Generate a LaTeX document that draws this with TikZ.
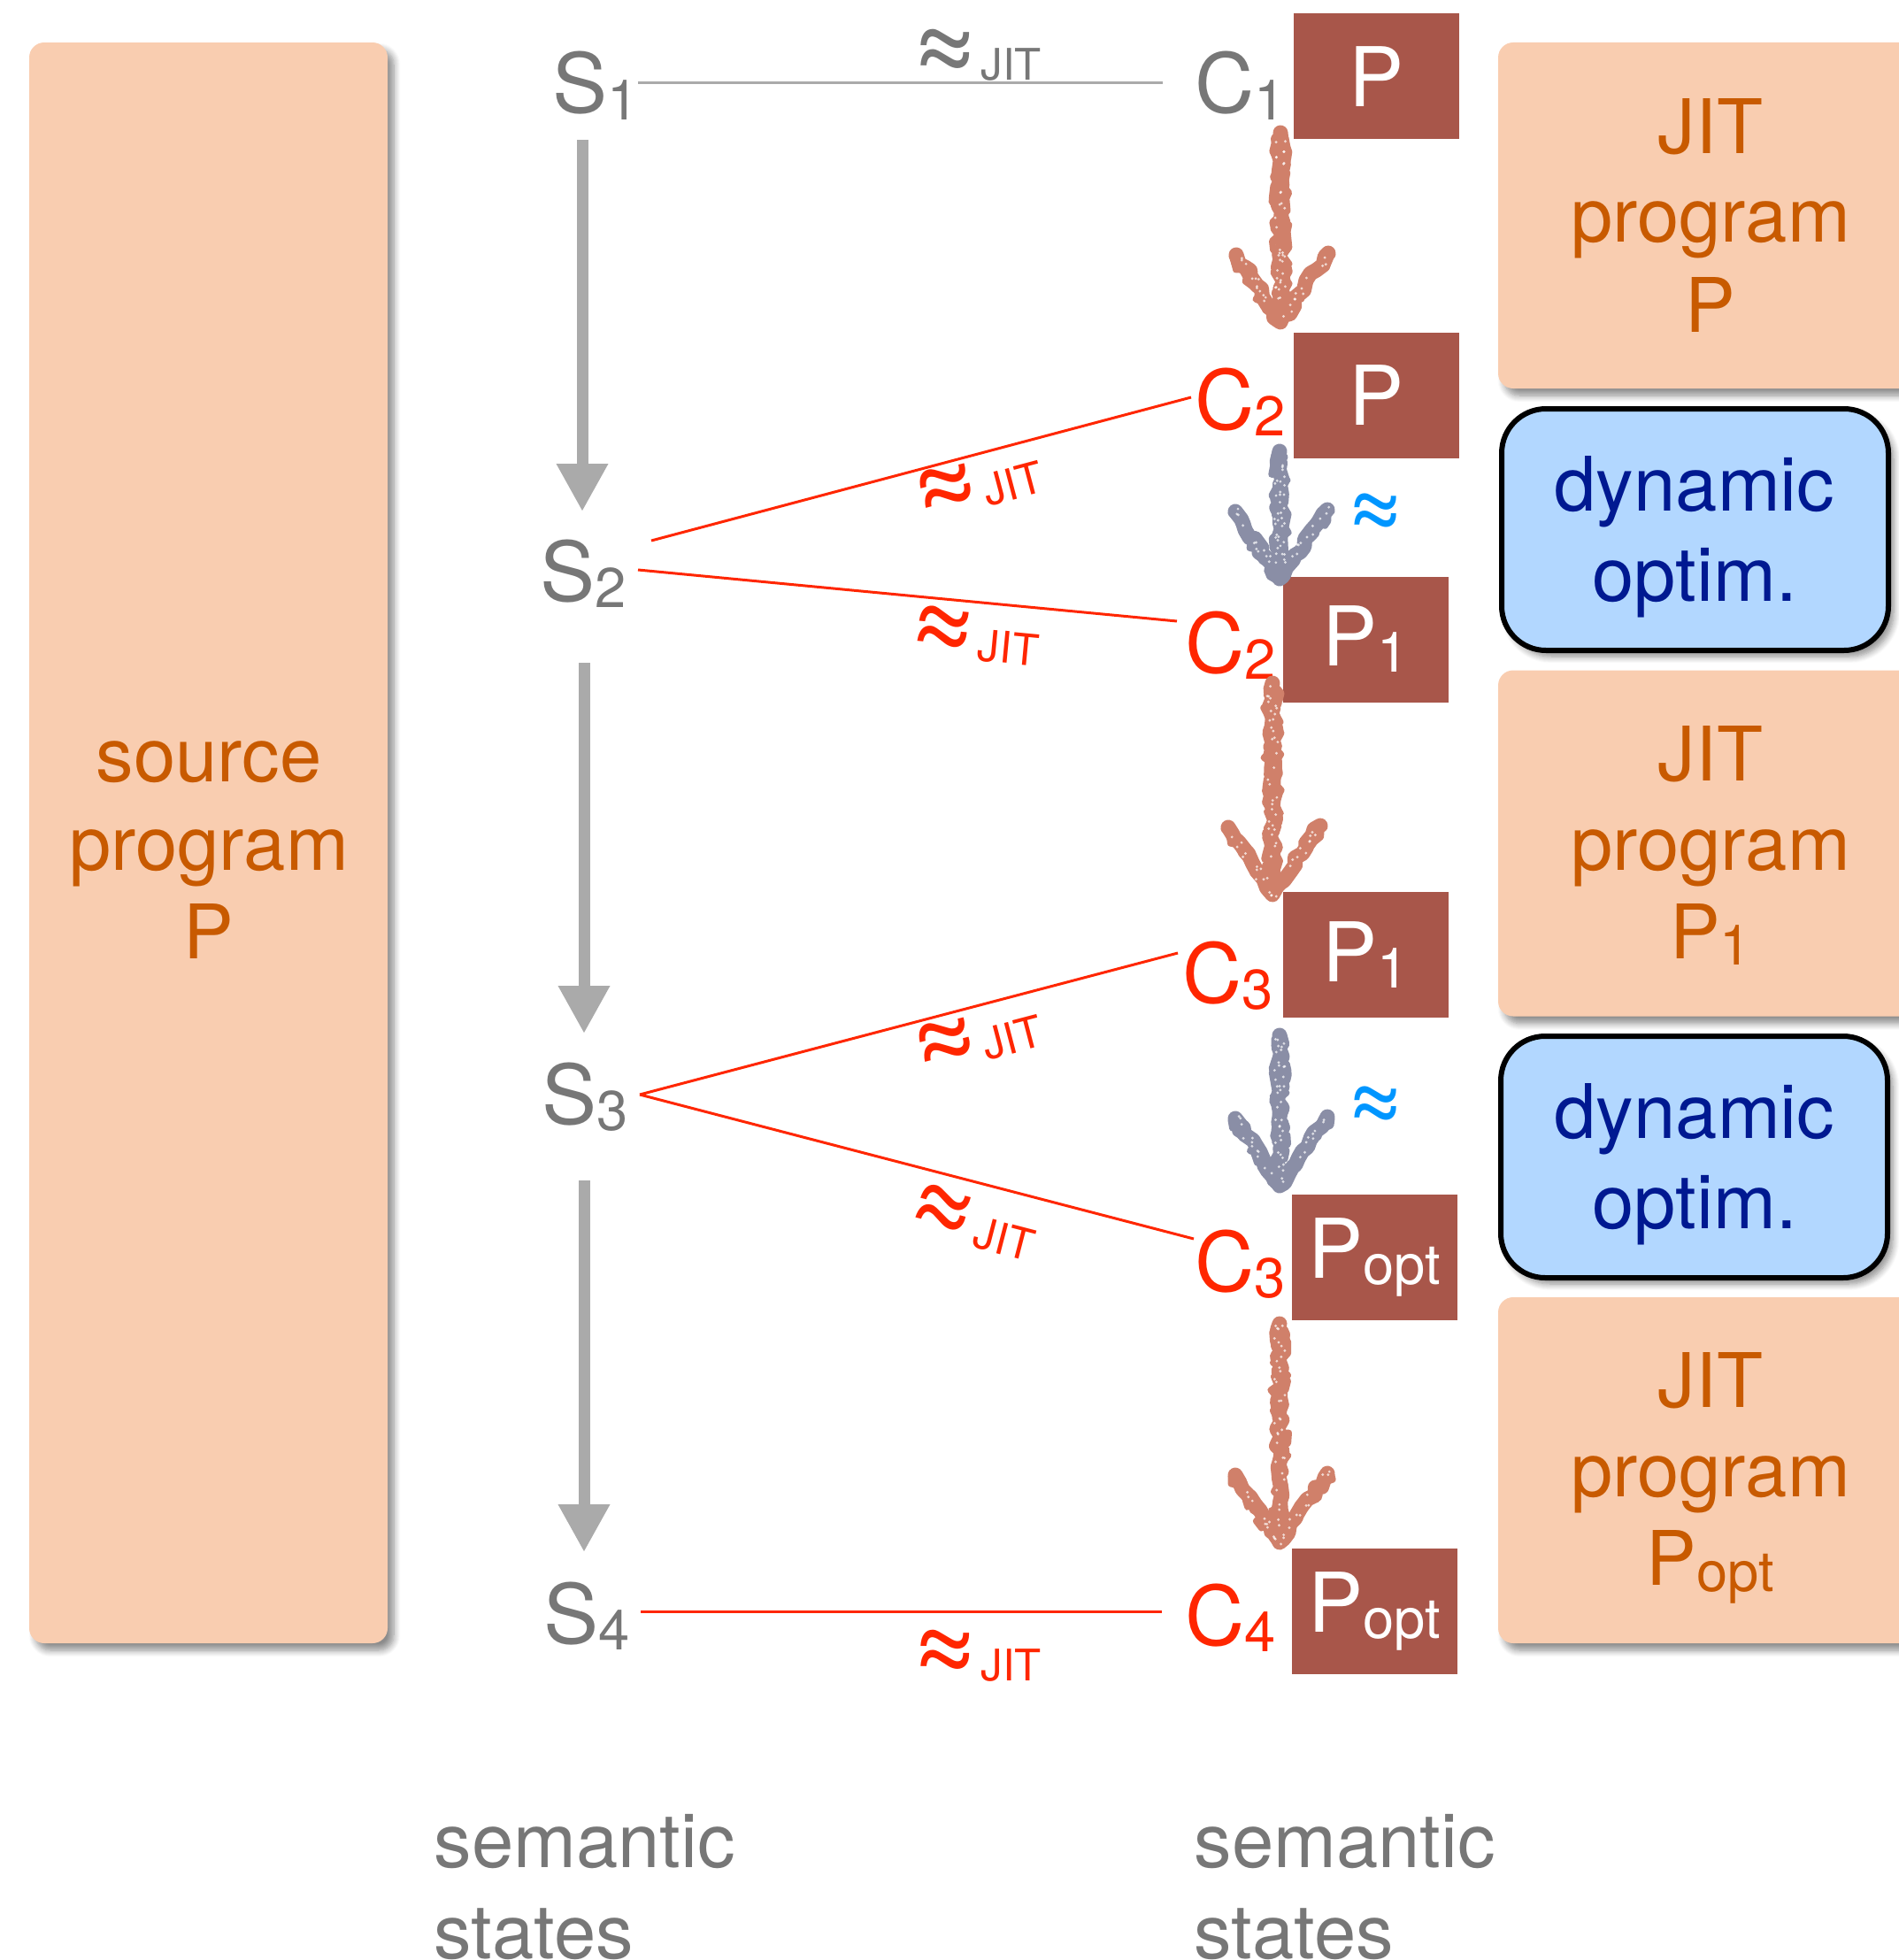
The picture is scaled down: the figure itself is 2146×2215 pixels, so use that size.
\documentclass[tikz,border=0pt]{standalone}
\usepackage{fontspec}
\setmainfont{TeX Gyre Heros}
\usetikzlibrary{arrows.meta,decorations.pathmorphing,shadows.blur,calc}

\definecolor{peach}{RGB}{249,205,176}
\definecolor{orangetxt}{RGB}{200,90,0}
\definecolor{skyfill}{RGB}{178,215,255}
\definecolor{navy}{RGB}{0,25,145}
\definecolor{brick}{RGB}{168,86,74}
\definecolor{jitred}{RGB}{255,38,0}
\definecolor{stategray}{RGB}{119,119,119}
\definecolor{arrowgray}{RGB}{170,170,170}
\definecolor{chalkbrown}{RGB}{208,128,106}
\definecolor{chalkblue}{RGB}{138,142,166}
\definecolor{approxblue}{RGB}{0,150,255}

\newcommand\fstate{\fontsize{26.5}{30}\selectfont}
\newcommand\fsubs{\fontsize{18}{20}\selectfont}
\newcommand\fprog{\fontsize{24.2}{28}\selectfont}
\newcommand\fjit{\fontsize{14}{16}\selectfont}
\newcommand\sbs[1]{\raisebox{-2pt}{\fsubs #1}}
\newcommand\apx{{\fontsize{36}{36}\selectfont ≈}}
\newcommand\jit{\raisebox{-0.5pt}{\fjit JIT}}

\begin{document}
\begin{tikzpicture}[x=0.1mm, y=-0.1mm,
  progbox/.style={fill=peach, rounded corners=1.7mm, inner sep=0,
    blur shadow={shadow xshift=0.7mm, shadow yshift=-0.8mm, shadow blur steps=8, shadow opacity=45}},
  optbox/.style={fill=skyfill, draw=black, line width=0.6mm, rounded corners=5mm, inner sep=0,
    minimum width=43.7mm, minimum height=27.3mm,
    blur shadow={shadow xshift=0.6mm, shadow yshift=-0.7mm, shadow blur steps=8, shadow opacity=45}},
  codebox/.style={fill=brick, text=white, font=\fstate, inner sep=0,
    minimum width=18.7mm, minimum height=14.2mm},
  statelbl/.style={anchor=base west, inner sep=0, font=\fstate},
  progtxt/.style={anchor=base, inner sep=0, font=\fprog, text=orangetxt},
  opttxt/.style={anchor=base, inner sep=0, font=\fprog, text=navy},
  semtxt/.style={anchor=base west, inner sep=0, font=\fprog, text=stategray},
  jitlbl/.style={inner sep=0, font=\fstate},
  simline/.style={draw=#1, line width=0.3mm},
  steparrow/.style={draw=arrowgray, line width=1.3mm,
    -{Triangle[length=5.4mm, width=5.5mm]}},
  chalk/.style={draw=#1, line width=1.7mm, line cap=round, line join=round,
    decorate, decoration={random steps, segment length=0.8mm, amplitude=0.35mm}},
  chalkedge/.style={draw=#1, line width=0.7mm, line cap=round, line join=round,
    decorate, decoration={random steps, segment length=0.6mm, amplitude=0.45mm}}
]
\useasboundingbox (0,0) rectangle (2146,2215);
\clip (0,0) rectangle (2146,2215);
\pgfmathsetseed{7}

% source program column
\node[progbox, minimum width=40.5mm, minimum height=180.9mm] (src) at (235.5,952.5) {};
\node[progtxt] (srcA) at (236,883) {source};
\node[progtxt] (srcB) at (236,983) {program};
\node[progtxt] (srcC) at (236,1083) {P};

% JIT program boxes and dynamic optimisation steps
\node[progbox, minimum width=48mm, minimum height=39.1mm] (jit1) at (1933,243.5) {};
\node[progtxt] (jit1a) at (1933,173) {JIT};
\node[progtxt] (jit1b) at (1933,274) {program};
\node[progtxt] (jit1c) at (1933,375) {P};

\node[optbox] (dyn1) at (1915.5,598.5) {};
\node[opttxt] (dyn1a) at (1915,577) {dynamic};
\node[opttxt] (dyn1b) at (1915,679) {optim.};

\node[progbox, minimum width=48mm, minimum height=39.1mm] (jit2) at (1933,953) {};
\node[progtxt] (jit2a) at (1933,882) {JIT};
\node[progtxt] (jit2b) at (1933,983) {program};
\node[progtxt] (jit2c) at (1933,1083) {P\sbs{1}};

\node[optbox] (dyn2) at (1914.5,1307.5) {};
\node[opttxt] (dyn2a) at (1915,1286) {dynamic};
\node[opttxt] (dyn2b) at (1915,1388) {optim.};

\node[progbox, minimum width=48mm, minimum height=39.1mm] (jit3) at (1933,1661.5) {};
\node[progtxt] (jit3a) at (1933,1590) {JIT};
\node[progtxt] (jit3b) at (1933,1691) {program};
\node[progtxt] (jit3c) at (1933,1791) {P\sbs{opt}};

% semantic states of the source program
\node[statelbl, text=stategray] (S1) at (624,128) {S\sbs{1}};
\node[statelbl, text=stategray] (S2) at (610,679) {S\sbs{2}};
\node[statelbl, text=stategray] (S3) at (612,1270) {S\sbs{3}};
\node[statelbl, text=stategray] (S4) at (614,1857) {S\sbs{4}};

% code boxes and their states
\node[codebox] (PB1) at (1555.5,86.5) {P};
\node[codebox] (PB2) at (1555.5,447) {P};
\node[codebox] (PB3) at (1543.5,722.5) {P\sbs{1}};
\node[codebox] (PB4) at (1543.5,1079) {P\sbs{1}};
\node[codebox] (PB5) at (1553,1420.5) {P\sbs{opt}};
\node[codebox] (PB6) at (1553,1820.5) {P\sbs{opt}};

\node[statelbl, text=stategray] (C1) at (1350,128) {C\sbs{1}};
\node[statelbl, text=jitred] (C2u) at (1350,485) {C\sbs{2}};
\node[statelbl, text=jitred] (C2l) at (1339,760) {C\sbs{2}};
\node[statelbl, text=jitred] (C3u) at (1336,1133) {C\sbs{3}};
\node[statelbl, text=jitred] (C3l) at (1350,1459) {C\sbs{3}};
\node[statelbl, text=jitred] (C4) at (1339,1859) {C\sbs{4}};

% connector ports
\coordinate (s1r) at (721,94);   \coordinate (c1l) at (1314,94);
\coordinate (s2u) at (736,611);  \coordinate (c2ul) at (1346,449);
\coordinate (s2d) at (721,644);  \coordinate (c2ll) at (1330,702);
\coordinate (s3r) at (723,1237); \coordinate (c3ul) at (1331,1077);
\coordinate (c3ll) at (1349,1400);
\coordinate (s4r) at (724,1821); \coordinate (c4l) at (1313,1821);

\coordinate (a1s) at (658,158);  \coordinate (a1e) at (658,578);
\coordinate (a2s) at (660,749);  \coordinate (a2e) at (660,1168);
\coordinate (a3s) at (660,1334); \coordinate (a3e) at (660,1754);

% source execution steps
\draw[steparrow] (a1s) -- (a1e);
\draw[steparrow] (a2s) -- (a2e);
\draw[steparrow] (a3s) -- (a3e);

% simulation relations
\draw[simline=arrowgray] (s1r) -- (c1l);
\draw[simline=jitred] (s2u) -- (c2ul);
\draw[simline=jitred] (s2d) -- (c2ll);
\draw[simline=jitred] (s3r) -- (c3ul);
\draw[simline=jitred] (s3r) -- (c3ll);
\draw[simline=jitred] (s4r) -- (c4l);

\node[jitlbl, text=stategray] (r1) at (1102,62) {\apx\jit};
\node[jitlbl, text=jitred, rotate=14.9] (r2u) at (1103,547) {\apx\jit};
\node[jitlbl, text=jitred, rotate=-5.4] (r2d) at (1100,718) {\apx\jit};
\node[jitlbl, text=jitred, rotate=14.7] (r3u) at (1102,1173) {\apx\jit};
\node[jitlbl, text=jitred, rotate=-14.6] (r3d) at (1098,1380) {\apx\jit};
\node[jitlbl, text=jitred] (r4) at (1102,1871) {\apx\jit};

% chalk arrows between code states
\coordinate (b1t) at (1447,150);  \coordinate (b1h) at (1447,364);
\coordinate (b2t) at (1446,510);  \coordinate (b2h) at (1446,654);
\coordinate (b3t) at (1438,772);  \coordinate (b3h) at (1438,1011);
\coordinate (b4t) at (1446,1170); \coordinate (b4h) at (1446,1340);
\coordinate (b5t) at (1446,1496); \coordinate (b5h) at (1446,1743);

\foreach \t/\h/\c in {b1t/b1h/chalkbrown, b2t/b2h/chalkblue, b3t/b3h/chalkbrown,
                      b4t/b4h/chalkblue, b5t/b5h/chalkbrown}{
  \coordinate (armL) at ($(\h)+(-50,-76)$);
  \coordinate (armR) at ($(\h)+(54,-78)$);
  \coordinate (stem) at ($(\h)+(0,-18)$);
  \draw[chalk=\c] (\t) -- (stem);
  \draw[chalk=\c] (armL) -- (\h) -- (armR);
  \draw[chalkedge=\c] ($(\t)+(-6,4)$) -- ($(stem)+(-5,-10)$);
  \draw[chalkedge=\c] ($(\t)+(6,6)$) -- ($(stem)+(6,-12)$);
  \draw[chalkedge=\c] ($(armL)+(-5,2)$) -- ($(\h)+(-4,2)$) -- ($(armR)+(5,2)$);
  \foreach \k in {1,...,34}{
    \fill[white, opacity=0.7] ($(\t)!{rnd}!(stem)+({rand*6},0)$) circle (0.16mm);
  }
  \foreach \k in {1,...,12}{
    \fill[white, opacity=0.7] ($(armL)!{rnd}!(\h)+({rand*5},{rand*5})$) circle (0.16mm);
    \fill[white, opacity=0.7] ($(armR)!{rnd}!(\h)+({rand*5},{rand*5})$) circle (0.16mm);
  }
}

\node[inner sep=0, text=approxblue, font=\fontsize{31}{32}\selectfont] (ap1) at (1555,582) {≈};
\node[inner sep=0, text=approxblue, font=\fontsize{31}{32}\selectfont] (ap2) at (1555,1252) {≈};

% column captions
\node[semtxt] (cap1a) at (490,2110) {semantic};
\node[semtxt] (cap1b) at (490,2213) {states};
\node[semtxt] (cap2a) at (1349,2110) {semantic};
\node[semtxt] (cap2b) at (1349,2213) {states};
\end{tikzpicture}
\end{document}
